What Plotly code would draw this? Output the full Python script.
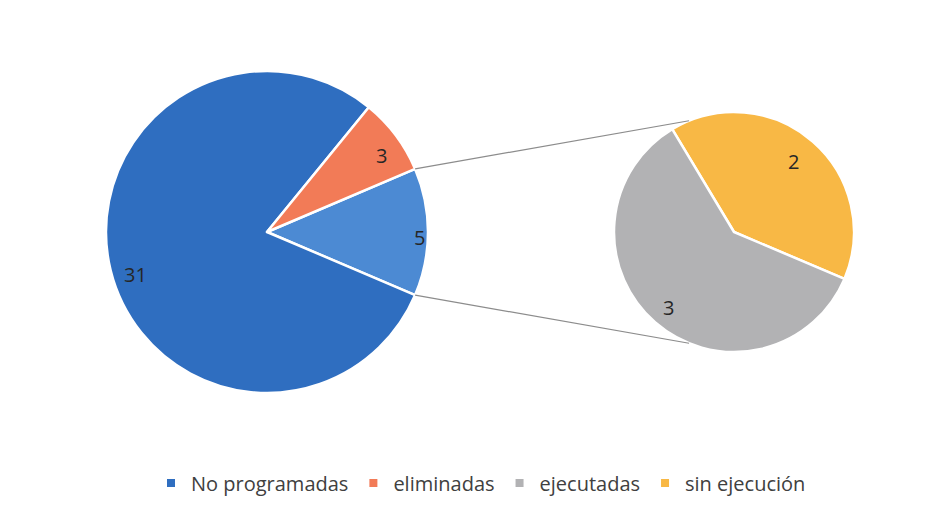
import math
import plotly.graph_objects as go

# ---- data ----
main_labels = ["Otras", "No programadas", "eliminadas"]
main_values = [5, 31, 3]
sub_labels = ["sin ejecución", "ejecutadas"]
sub_values = [2, 3]
legend_labels = ["No programadas", "eliminadas", "ejecutadas", "sin ejecución"]

# ---- style ----
W, H = 939, 518
OFF = 8  # page body margin
colors = {
    "Otras": "#4C8AD3",
    "No programadas": "#2F6EC0",
    "eliminadas": "#F27B57",
    "ejecutadas": "#B2B2B4",
    "sin ejecución": "#F8B845",
}
FONT = "Open Sans"
TXT = "#262626"

# pie geometry in page pixels
c1, r1 = (267, 232), 161
c2, r2 = (734, 232), 120
# data-label placement: (radial fraction, angle offset from slice middle)
main_label_pos = [(0.95, 2), (0.86, -4), (0.855, 3)]
sub_label_pos = [(0.77, -1), (0.83, 0)]


def px2paper(x, y):
    return (x - OFF) / W, (H - (y - OFF)) / H


def dom(c, r):
    x0, y0 = px2paper(c[0] - r, c[1] + r)
    x1, y1 = px2paper(c[0] + r, c[1] - r)
    return dict(x=[x0, x1], y=[y0, y1])


def pt(c, r, ang):
    a = math.radians(ang)
    return px2paper(c[0] + r * math.sin(a), c[1] - r * math.cos(a))


other_span = main_values[0] / sum(main_values) * 360
rot_main = 90 - other_span / 2
rot_sub = -31

fig = go.Figure()
for labels, values, rot, c, r in [(main_labels, main_values, rot_main, c1, r1),
                                  (sub_labels, sub_values, rot_sub, c2, r2)]:
    fig.add_trace(go.Pie(
        labels=labels, values=values, sort=False, direction="clockwise",
        rotation=rot, domain=dom(c, r),
        marker=dict(colors=[colors[l] for l in labels], line=dict(color="white", width=2.5)),
        textinfo="none", showlegend=False, hoverinfo="label+value",
    ))

# data labels near slice mid-angles
for values, rot, c, r, lp in [(main_values, rot_main, c1, r1, main_label_pos),
                              (sub_values, rot_sub, c2, r2, sub_label_pos)]:
    tot = sum(values)
    start = rot
    for v, (f, da) in zip(values, lp):
        span = v / tot * 360
        mid = start + span / 2 + da
        x, y = pt(c, r * f, mid)
        fig.add_annotation(x=x, y=y, xref="paper", yref="paper", text=str(v),
                           xanchor="center", yanchor="middle", showarrow=False,
                           font=dict(family=FONT, size=20, color=TXT))
        start += span

# legend entries
for lab in legend_labels:
    fig.add_trace(go.Scatter(
        x=[None], y=[None], mode="markers", name=lab,
        marker=dict(symbol="square", size=8, color=colors[lab]),
    ))

for a1, a2 in [(rot_main, -22), (rot_main + other_span, 202)]:
    x0, y0 = pt(c1, r1, a1)
    x1, y1 = pt(c2, r2, a2)
    fig.add_shape(type="line", xref="paper", yref="paper", x0=x0, y0=y0, x1=x1, y1=y1,
                  line=dict(color="#8C8C8C", width=1.2))

lx, ly = px2paper(481, 483)
fig.update_layout(
    width=W, height=H,
    margin=dict(l=0, r=0, t=0, b=0),
    paper_bgcolor="white", plot_bgcolor="white",
    xaxis=dict(visible=False), yaxis=dict(visible=False),
    font=dict(family=FONT, color="#404040"),
    legend=dict(orientation="h", x=lx, xanchor="center", y=ly, yanchor="middle",
                font=dict(family=FONT, size=20, color="#404040"), itemclick=False),
)

fig.write_html("out.html")
